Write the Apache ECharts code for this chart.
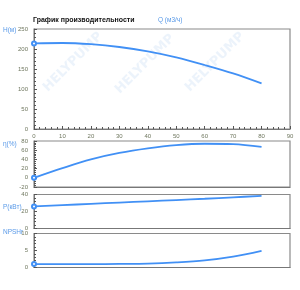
<!DOCTYPE html>
<html>
<head>
<meta charset="utf-8">
<script src="https://cdn.jsdelivr.net/npm/echarts@6/dist/echarts.min.js"></script>
<style>
  html, body { margin: 0; padding: 0; background: #fff; }
  #chart { width: 300px; height: 290px; }
</style>
</head>
<body>
<div id="chart"></div>
<script>
// flow points, m3/h
const flow = [0, 10, 20, 30, 40, 50, 60, 70, 80];
// curves
const head = [214, 215, 212, 205, 194, 179, 160, 139, 114];
const efficiency = [0, 21, 40, 54, 64, 71, 74, 73, 67];
const power = [26, 27.5, 29, 30.5, 32, 33.5, 35, 36.7, 38.4];
const npsh = [1.0, 1.0, 1.0, 1.05, 1.15, 1.5, 2.1, 3.2, 4.9];

const axisNames = ["H(м)", "η(%)", "P(кВт)", "NPSHr"];
const yRanges = [[0, 250, 50], [-20, 80, 20], [0, 40, 20], [0, 10, 5]];

const lineColor = "#4190f5";
const labelColor = "#6f775f";
const nameColor = "#5a9ae8";
const font = "Liberation Sans";

const grids = [
    { left: 34, top: 29, width: 256, height: 100 },
    { left: 34, top: 141, width: 256, height: 46 },
    { left: 34, top: 194.5, width: 256, height: 34 },
    { left: 34, top: 233.5, width: 256, height: 34 }
];

function pairs(values) {
    return values.map(function (v, i) {
        if (i === 0) {
            return { value: [flow[i], v], symbol: "emptyCircle", symbolSize: 4 };
        }
        return { value: [flow[i], v], symbol: "none" };
    });
}

let myChart = echarts.init(document.getElementById("chart"), null, { renderer: "canvas" });

let xAxes = grids.map(function (g, i) {
    return {
        type: "value",
        gridIndex: i,
        min: 0,
        max: 90,
        interval: 10,
        axisLine: { show: true, onZero: false, lineStyle: { color: "#777", width: 1 } },
        axisTick: { show: i === 0, inside: true, length: 3, lineStyle: { color: "#555" } },
        minorTick: { show: i === 0, splitNumber: 5, length: 2, lineStyle: { color: "#555" } },
        axisLabel: { show: i === 0, color: labelColor, fontSize: 6, fontFamily: font, margin: 4 },
        splitLine: { show: false }
    };
});

let yAxes = grids.map(function (g, i) {
    return {
        type: "value",
        gridIndex: i,
        min: yRanges[i][0],
        max: yRanges[i][1],
        interval: yRanges[i][2],
        axisLine: { show: true, onZero: false, lineStyle: { color: "#777", width: 1 } },
        axisTick: { show: true, inside: true, length: 3, lineStyle: { color: "#555" } },
        minorTick: { show: true, splitNumber: 5, length: 2, lineStyle: { color: "#555" } },
        axisLabel: { color: labelColor, fontSize: 6, fontFamily: font, margin: 6 },
        splitLine: { show: false }
    };
});

let seriesData = [head, efficiency, power, npsh];
let series = seriesData.map(function (values, i) {
    return {
        type: "line",
        xAxisIndex: i,
        yAxisIndex: i,
        data: pairs(values),
        smooth: 0.35,
        showSymbol: true,
        symbol: "emptyCircle",
        lineStyle: { color: lineColor, width: 1.8 },
        itemStyle: { color: lineColor, borderColor: lineColor, borderWidth: 1 },
        emphasis: { disabled: true },
        z: 3
    };
});

// faint watermark text, as in the original
let marks = [];
[[73, 62], [145, 64], [215, 62]].forEach(function (p) {
    marks.push({
        type: "text",
        x: p[0],
        y: p[1],
        rotation: Math.PI / 4,
        z: -1,
        style: {
            text: "HELYPUMP",
            fill: "rgba(185,212,240,0.28)",
            font: "bold 13px 'DejaVu Sans'",
            align: "center",
            verticalAlign: "middle"
        }
    });
});

let labels = axisNames.map(function (name, i) {
    return {
        type: "text",
        x: 3,
        y: [30.5, 144.5, 207.5, 232.5][i],
        style: { text: name, fill: nameColor, font: "6.5px 'Liberation Sans'", verticalAlign: "middle" }
    };
});

labels.push({
    type: "text",
    x: 33,
    y: 20.5,
    style: { text: "График производительности", fill: "#111", font: "bold 7px 'Liberation Sans'", verticalAlign: "middle" }
});
labels.push({
    type: "text",
    x: 158,
    y: 20.5,
    style: { text: "Q (м3/ч)", fill: nameColor, font: "6.5px 'Liberation Sans'", verticalAlign: "middle" }
});

let option = {
    animation: false,
    backgroundColor: "#fff",
    grid: grids.map(function (g) {
        return Object.assign({ show: true, borderColor: "#8a8a8a", borderWidth: 1.2, backgroundColor: "transparent", outerBoundsMode: "none" }, g);
    }),
    xAxis: xAxes,
    yAxis: yAxes,
    series: series,
    graphic: marks.concat(labels)
};

myChart.setOption(option);
</script>
</body>
</html>
